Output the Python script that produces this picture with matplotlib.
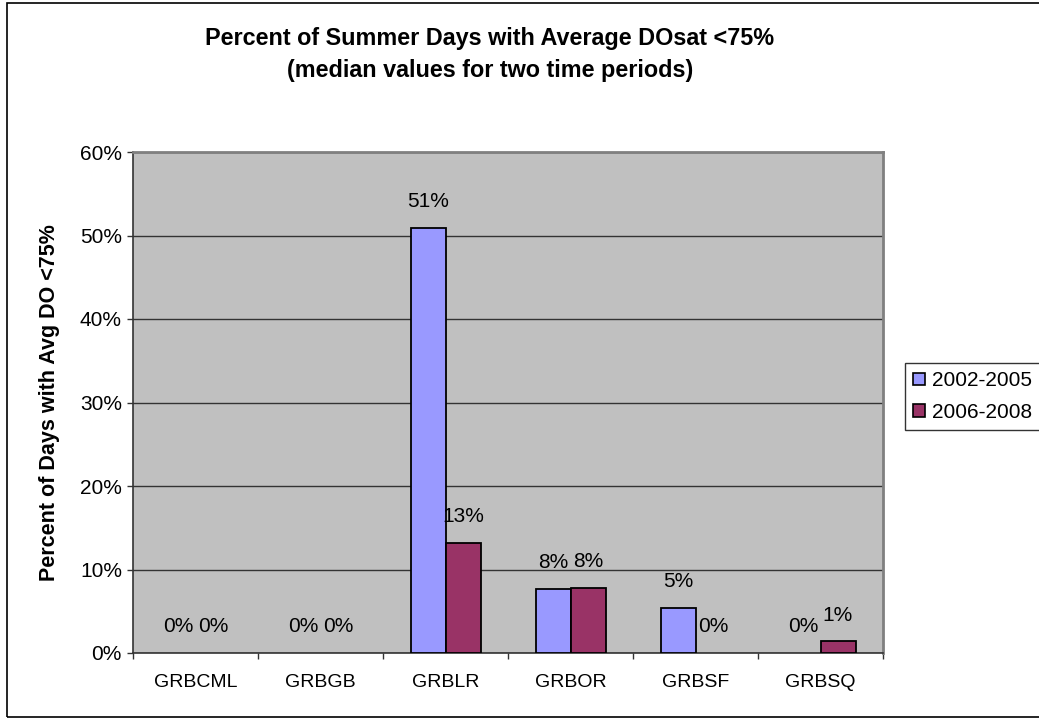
import matplotlib
matplotlib.use("Agg")
import matplotlib.pyplot as plt
import numpy as np
from matplotlib.ticker import FixedLocator, PercentFormatter
from matplotlib.patches import Rectangle, Patch

plt.rcParams['font.family'] = ['Liberation Sans', 'DejaVu Sans']

categories = ["GRBCML", "GRBGB", "GRBLR", "GRBOR", "GRBSF", "GRBSQ"]
series_names = ["2002-2005", "2006-2008"]
vals_2002_2005 = [0.0, 0.0, 0.509, 0.077, 0.054, 0.0]
vals_2006_2008 = [0.0, 0.0, 0.132, 0.078, 0.0, 0.014]
label_2002_2005 = ["0%", "0%", "51%", "8%", "5%", "0%"]
label_2006_2008 = ["0%", "0%", "13%", "8%", "0%", "1%"]
colors = ["#9999FF", "#993366"]

fig = plt.figure(figsize=(10.39, 7.24), dpi=100)
fig.patch.set_facecolor("white")
# outer chart border
fig.patches.append(Rectangle((7/1039, 7/724), 1.0, 1 - 10/724, transform=fig.transFigure,
                             fill=False, edgecolor="black", linewidth=1.2))

ax = fig.add_axes([133/1039, 1 - 653/724, 750/1039, 501/724])
ax.set_facecolor("#C0C0C0")

x = np.arange(len(categories))
w = 0.28
series = [vals_2002_2005, vals_2006_2008]
labels = [label_2002_2005, label_2006_2008]
for i, (vals, labs) in enumerate(zip(series, labels)):
    offs = (i - 0.5) * w
    bars = ax.bar(x + offs, vals, width=w, color=colors[i], edgecolor="black",
                  linewidth=1.3, label=series_names[i], zorder=3)
    for b, v in zip(bars, vals):
        if v == 0:
            b.set_linewidth(0)
    for xi, v, lab in zip(x, vals, labs):
        ax.annotate(lab, (xi + offs, v), xytext=(0, 26), textcoords="offset pixels",
                    ha="center", va="center", fontsize=15, zorder=4)

ax.set_xlim(-0.5, len(categories) - 0.5)
ax.set_ylim(0, 0.6)
ax.set_yticks(np.arange(0, 0.61, 0.1))
ax.yaxis.set_major_formatter(PercentFormatter(1.0, decimals=0))
ax.yaxis.grid(True, color="#333333", linewidth=1.0, zorder=1)
ax.set_axisbelow(True)

ax.set_xticks(x)
ax.set_xticklabels(categories, fontsize=14)
ax.xaxis.set_minor_locator(FixedLocator(np.arange(-0.5, len(categories), 1.0)))
ax.tick_params(axis="x", which="major", length=0, pad=15)
ax.tick_params(axis="x", which="minor", length=4, color="#333333", width=1)
ax.tick_params(axis="y", which="major", length=4, color="#333333", width=1, labelsize=15, pad=4)

for s in ["top", "right"]:
    ax.spines[s].set_color("#808080")
    ax.spines[s].set_linewidth(2.0)
ax.spines["left"].set_color("#333333")
ax.spines["bottom"].set_color("#333333")
ax.spines["left"].set_linewidth(1.2)
ax.spines["bottom"].set_linewidth(1.2)

ax.set_ylabel("Percent of Days with Avg DO <75%", fontsize=15.5, fontweight="bold", labelpad=14)

fig.text(490/1039, 1 - 38/724, "Percent of Summer Days with Average DOsat <75%",
         ha="center", va="center", fontsize=16.8, fontweight="bold")
fig.text(490/1039, 1 - 70/724, "(median values for two time periods)",
         ha="center", va="center", fontsize=16.8, fontweight="bold")

handles = [Patch(facecolor=c, edgecolor="black", linewidth=1.2, label=n)
           for c, n in zip(colors, series_names)]
leg = fig.legend(handles=handles, loc="upper left", bbox_to_anchor=(905/1039, 1 - 363/724),
                 fontsize=15, frameon=True, fancybox=False, edgecolor="black",
                 handlelength=0.55, handleheight=0.55, handletextpad=0.35, borderpad=0.4,
                 labelspacing=0.6, borderaxespad=0)
leg.get_frame().set_linewidth(1.0)

fig.savefig("out.png", dpi=100)
